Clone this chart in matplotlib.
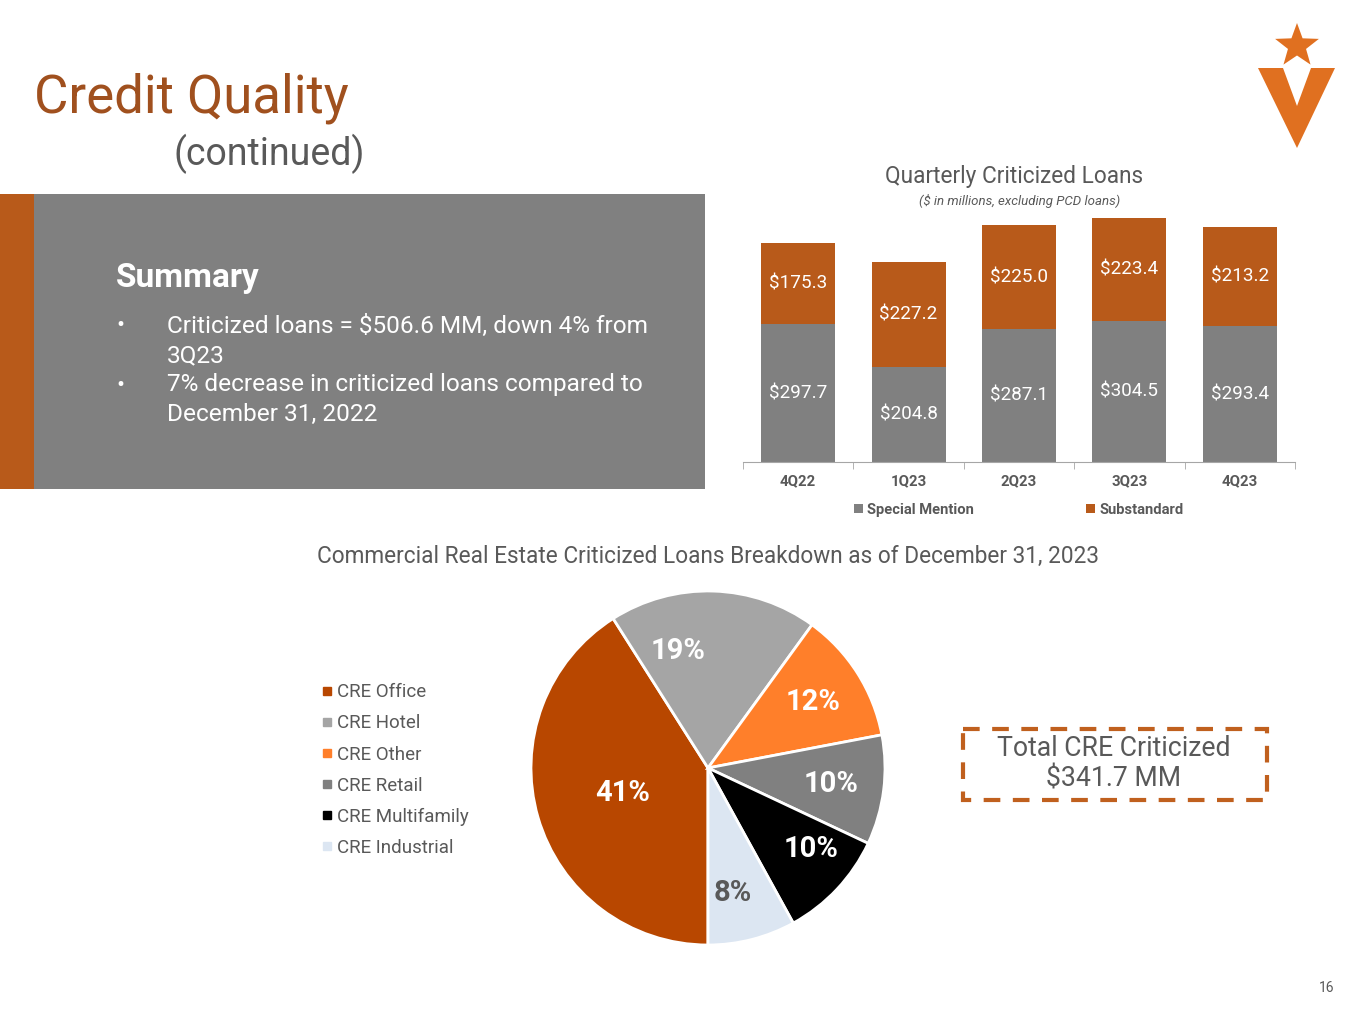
import numpy as np
import matplotlib
matplotlib.use("Agg")
import matplotlib.pyplot as plt
from matplotlib.patches import Rectangle, Polygon
from matplotlib.lines import Line2D

plt.rcParams['font.family'] = ['Roboto', 'DejaVu Sans']

# data
quarters = ['4Q22', '1Q23', '2Q23', '3Q23', '4Q23']
special_mention = [297.7, 204.8, 287.1, 304.5, 293.4]
substandard = [175.3, 227.2, 225.0, 223.4, 213.2]

cre_types = ['CRE Office', 'CRE Hotel', 'CRE Other', 'CRE Retail',
             'CRE Multifamily', 'CRE Industrial']
cre_share = [41, 19, 12, 10, 10, 8]
cre_total = 341.7

summary_lines = [
    ['Criticized loans = $506.6 MM, down 4% from', '3Q23'],
    ['7% decrease in criticized loans compared to', 'December 31, 2022'],
]

ORANGE = '#B85A1A'
GRAY = '#808080'
TXT = '#595959'
pie_colors = ['#B84700', '#A5A5A5', '#FF7F2A', '#808080', '#000000', '#DCE6F2']
pct_colors = ['white', 'white', 'white', 'white', 'white', '#595959']

W, H = 1365, 1024
fig = plt.figure(figsize=(W / 100, H / 100), dpi=100)
fig.patch.set_facecolor('white')

# background layer in pixel coords
bg = fig.add_axes([0, 0, 1, 1], zorder=-1)
bg.set_xlim(0, W)
bg.set_ylim(H, 0)
bg.axis('off')

bg.text(34, 98, 'Credit Quality', color='#A0501E', fontsize=38,
        va='center', ha='left')
bg.text(173, 154, '(continued)', color=TXT, fontsize=27, va='center', ha='left')

# summary panel
bg.add_patch(Rectangle((0, 194), 705, 295, color=GRAY, lw=0))
bg.add_patch(Rectangle((0, 194), 34, 295, color=ORANGE, lw=0))
bg.text(116, 278, 'Summary', color='white', fontsize=24, fontweight='bold',
        va='center', ha='left')
y = 326
for lines in summary_lines:
    bg.text(116, y, '•', color='white', fontsize=17, va='center', ha='left')
    for ln in lines:
        bg.text(167, y, ln, color='white', fontsize=17.6, va='center', ha='left')
        y += 29.5

# logo
star_c, R, r = (1297, 46), 23, 9.5
pts = []
for i in range(10):
    ang = np.pi / 2 + i * np.pi / 5
    rad = R if i % 2 == 0 else r
    pts.append((star_c[0] + rad * np.cos(ang), star_c[1] - rad * np.sin(ang)))
bg.add_patch(Polygon(pts, closed=True, color='#E07020', lw=0))
bg.add_patch(Polygon([(1258, 68), (1283, 68), (1297, 106), (1311, 68),
                      (1335, 68), (1297, 148)], closed=True, color='#E07020', lw=0))

bg.text(1334, 988, '16', color=TXT, fontsize=10, va='center', ha='right')

# bar chart
ax = fig.add_axes([743 / W, 1 - 462 / H, 552 / W, 250 / H])
x = np.arange(len(quarters))
ax.bar(x, special_mention, width=0.67, color=GRAY, label='Special Mention')
ax.bar(x, substandard, width=0.67, bottom=special_mention, color=ORANGE,
       label='Substandard')
for i in range(len(quarters)):
    ax.text(x[i], special_mention[i] / 2, f'${special_mention[i]:.1f}',
            ha='center', va='center', color='white', fontsize=13.6)
    ax.text(x[i], special_mention[i] + substandard[i] / 2, f'${substandard[i]:.1f}',
            ha='center', va='center', color='white', fontsize=13.6)
ax.set_xlim(-0.5, len(quarters) - 0.5)
ax.set_ylim(0, 540)
for s in ['top', 'right', 'left']:
    ax.spines[s].set_visible(False)
ax.spines['bottom'].set_color('#A6A6A6')
ax.set_yticks([])
ax.set_xticks(x)
ax.set_xticklabels(quarters, fontsize=10.8, fontweight='bold', color=TXT)
ax.tick_params(axis='x', length=0, pad=9)
ax.set_xticks(np.arange(-0.5, len(quarters)), minor=True)
ax.tick_params(axis='x', which='minor', length=5, color='#A6A6A6')
ax.legend(loc='center', bbox_to_anchor=(0.5, -0.192), ncol=2, frameon=False,
          handlelength=0.6, handleheight=0.6, handletextpad=0.3,
          columnspacing=7.6, prop={'size': 10.6, 'weight': 'bold'},
          labelcolor=TXT)
fig.text(1014 / W, 1 - 176 / H, 'Quarterly Criticized Loans', ha='center',
         va='center', fontsize=16.3, color=TXT)
fig.text(1020 / W, 1 - 201 / H, '($ in millions, excluding PCD loans)',
         ha='center', va='center', fontsize=9.5, style='italic', color=TXT)

# pie chart
fig.text(708 / W, 1 - 556 / H,
         'Commercial Real Estate Criticized Loans Breakdown as of December 31, 2023',
         ha='center', va='center', fontsize=16.3, color=TXT)
pax = fig.add_axes([531 / W, 1 - 945 / H, 354 / W, 354 / H])
wedges, _ = pax.pie(cre_share, colors=pie_colors, startangle=270,
                    counterclock=False,
                    wedgeprops=dict(edgecolor='white', linewidth=2))
pax.set_xlim(-1, 1)
pax.set_ylim(-1, 1)
lab_dist = [0.5, 0.68, 0.7, 0.7, 0.74, 0.72]
lab_shift = [0, 16, 0, 0, 5, -3]
for w, d, sh, v, c in zip(wedges, lab_dist, lab_shift, cre_share, pct_colors):
    ang = np.deg2rad((w.theta1 + w.theta2) / 2 + sh)
    pax.text(d * np.cos(ang), d * np.sin(ang), f'{v}%', ha='center',
             va='center', fontsize=21, fontweight='bold', color=c)
handles = [Line2D([], [], marker='s', ls='', color=c, markersize=6)
           for c in pie_colors]
pax.legend(handles, cre_types, loc='center left', bbox_to_anchor=(-0.645, 0.494),
           frameon=False, fontsize=13.5, labelcolor=TXT, handletextpad=0.15,
           labelspacing=0.7, handlelength=0.8)

# total box
bg.add_patch(Rectangle((963, 729), 304, 71, fill=False, ec='#C0601E', lw=3,
                       ls=(0, (4, 3))))
bg.text(1114, 748, 'Total CRE Criticized', ha='center', va='center',
        fontsize=19.2, color=TXT)
bg.text(1114, 779, f'${cre_total:.1f} MM', ha='center', va='center',
        fontsize=19.2, color=TXT)

fig.savefig('out.png', dpi=100)
